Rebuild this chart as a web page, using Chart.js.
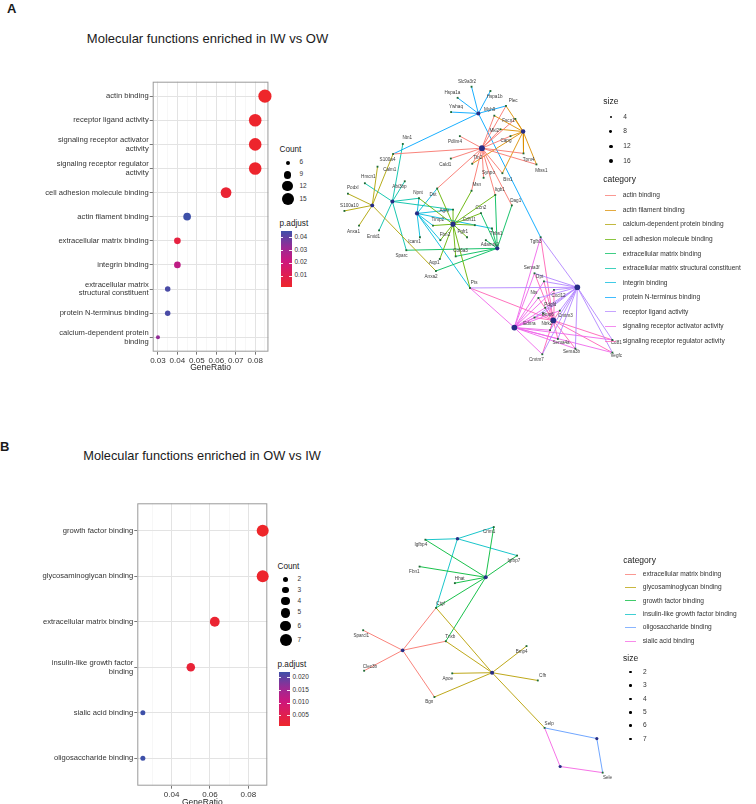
<!DOCTYPE html>
<html>
<head>
<meta charset="utf-8">
<title>Molecular functions enriched</title>
<script src="https://cdn.jsdelivr.net/npm/chart.js@4.4.1/dist/chart.umd.min.js"></script>
<style>
  html, body { margin: 0; padding: 0; background: #fff; }
  body { position: relative; width: 756px; height: 804px; overflow: hidden; font-family: "Liberation Sans", Arial, Helvetica, sans-serif; color: #1a1a1a; }
  canvas, .t, .key { position: absolute; }
  .t { white-space: nowrap; }
</style>
</head>
<body>
<canvas id="dotA" width="275" height="303" style="left:0;top:70px"></canvas>
<canvas id="netA" width="300" height="320" style="left:330px;top:60px"></canvas>
<canvas id="dotB" width="275" height="318" style="left:0;top:490px"></canvas>
<canvas id="netB" width="290" height="300" style="left:340px;top:500px"></canvas>
<script>
var FONT = '"Liberation Sans", Arial, Helvetica, sans-serif';

// ---- Panel A, dot plot
var termsA = ["actin binding", "receptor ligand activity", ["signaling receptor activator", "activity"],
  ["signaling receptor regulator", "activity"], "cell adhesion molecule binding", "actin filament binding",
  "extracellular matrix binding", "integrin binding", ["extracellular matrix", "structural constituent"],
  "protein N-terminus binding", ["calcium-dependent protein", "binding"]];
var ratioA = [0.085, 0.08, 0.08, 0.08, 0.065, 0.045, 0.04, 0.04, 0.035, 0.035, 0.03];
var countA = [17, 16, 16, 16, 13, 9, 8, 8, 7, 7, 6];
var padjA = [0.0008, 0.0015, 0.0015, 0.0015, 0.003, 0.0447, 0.006, 0.024, 0.043, 0.043, 0.033];
var xTicksA = [0.03, 0.04, 0.05, 0.06, 0.07, 0.08];
var countLegA = [6, 9, 12, 15];
var padjLegA = ["0.04", "0.03", "0.02", "0.01"];

// ---- Panel B, dot plot
var termsB = ["growth factor binding", "glycosaminoglycan binding", "extracellular matrix binding",
  ["insulin-like growth factor", "binding"], "sialic acid binding", "oligosaccharide binding"];
var ratioB = [0.0875, 0.0875, 0.0625, 0.05, 0.025, 0.025];
var countB = [7, 7, 5, 4, 2, 2];
var padjB = [0.0009, 0.0012, 0.0018, 0.0025, 0.0222, 0.0222];
var xTicksB = [0.04, 0.06, 0.08];
var countLegB = [2, 3, 4, 5, 6, 7];
var padjLegB = ["0.020", "0.015", "0.010", "0.005"];

// ---- Panel A, gene-concept network (layout coordinates)
var catA = ["actin binding", "actin filament binding", "calcium-dependent protein binding",
  "cell adhesion molecule binding", "extracellular matrix binding", "extracellular matrix structural constituent",
  "integrin binding", "protein N-terminus binding", "receptor ligand activity",
  "signaling receptor activator activity", "signaling receptor regulator activity"];
var catColA = ["#F8766D", "#DB8E00", "#AEA200", "#64B200", "#00BD5C", "#00C1A7",
  "#00BADE", "#00A6FF", "#B385FF", "#EF67EB", "#FF63B6"];
var catXA = [482, 524.3, 369.3, 452.3, 497.7, 390, 415.3, 478.3, 580, 515.3, 555.3];
var catYA = [146.3, 129.3, 205, 224.3, 249, 201, 213.3, 110.7, 289, 330.3, 323];
var catCountA = [17, 9, 6, 13, 8, 7, 8, 7, 16, 16, 16];
var sizeLegA = [4, 8, 12, 16];

var geneA = ["Slc9a3r2", "Hspa1a", "Hspa1b", "Ywhaq", "Myh9", "Plec", "Fscn1", "Mkl2", "Capg", "Pdlim4",
  "Cald1", "Tln2", "Tpm4", "Mtss1", "Synpo", "Bin1", "Msn", "Itgb1", "Dag1", "Ntn1",
  "S100a4", "Calm1", "Hmcn1", "Abi3bp", "Podxl", "Npnt", "Dst", "S100a10", "Anxa1", "Emid1",
  "Agrn", "Timp2", "Cdh11", "Ccn2", "Fgfr1", "Fbn2", "Icam1", "Col6a3", "Sparc", "Aqp1",
  "Anxa2", "Pts", "Tgfb3", "Thbs1", "Adamts2", "Sema3f", "Dpt", "Nts", "Cxcl12", "Pdgfd",
  "Bmp6", "Cmtm3", "Ntrk2", "Ednra", "Sema4a", "Cmtm7", "Sema3b", "Cd81", "Vegfc"];
var geneXA = [471.3, 457, 490.7, 450.3, 494.7, 506.7, 516.3, 501, 511.3, 459.3,
  450, 472, 524.7, 538, 483.7, 503, 471.3, 495.7, 512.7, 400.7,
  390.7, 374.7, 361.7, 402.7, 344.3, 417.3, 436, 340.7, 355.7, 376.3,
  452.3, 431.7, 474.7, 481, 466.7, 439.3, 418.3, 455, 404.3, 438.7,
  434.7, 469.7, 542.3, 492.3, 486, 536, 545.7, 540, 556, 547,
  545, 562, 552, 536, 560, 544, 578, 616, 616];
var geneYA = [83.3, 94.7, 87.7, 109.3, 113, 103, 116.3, 127, 134, 134,
  157, 162.3, 151.7, 163, 176.7, 172, 190, 194.3, 205, 142,
  152.3, 165.3, 182.3, 180.3, 193, 197.7, 187.7, 210.7, 225.7, 230.7,
  209.3, 225.7, 225.3, 213, 237.7, 240.7, 237.7, 257.3, 251, 260,
  272.3, 289.7, 237.7, 228.7, 240.7, 274.7, 283, 300, 291.7, 310,
  316, 313, 333, 320, 342, 357.7, 352, 343, 356];
var labXA = [466.7, 451.7, 495, 455.3, 490, 514, 509.3, 494.7, 506.7, 454.3,
  444.3, 477.7, 530, 543, 488.7, 508.7, 476.7, 500.3, 516.7, 405.3,
  385, 387.3, 365.3, 397.3, 349.3, 416.3, 431.7, 345.7, 350, 370.7,
  443.3, 436.7, 469, 481, 462.3, 444, 412.7, 460, 399.3, 433,
  429.7, 474, 537.3, 496.7, 490, 533, 541.3, 535.3, 560.7, 552.3,
  549.7, 567.7, 548.7, 530.7, 563.3, 538, 574, 620, 620];
var labYA = [77.7, 89, 94, 104, 107, 97.3, 118, 128.7, 138.3, 139.7,
  163, 156, 157.7, 169.3, 171.3, 178.3, 183.7, 189, 200, 136,
  158.3, 168.3, 176, 185.7, 187, 192, 194, 205, 232, 237,
  210.3, 220, 219.3, 207.7, 232, 235, 242.7, 252, 257, 264,
  278.3, 284, 242.7, 233.7, 245.7, 268.7, 277.7, 294.3, 297.3, 306.7,
  317.3, 318.7, 326.7, 326, 346, 363.3, 355, 346, 359];
var catGenesA = [
  ["Pdlim4", "Mkl2", "Plec", "Capg", "Tpm4", "Cald1", "Tln2", "Synpo", "Bin1", "Msn", "Itgb1", "Dag1", "S100a4", "Dst", "Myh9", "Fscn1", "Mtss1"],
  ["Plec", "Fscn1", "Mkl2", "Capg", "Tpm4", "Mtss1", "Bin1", "Tln2", "Myh9"],
  ["S100a4", "Calm1", "Podxl", "S100a10", "Anxa1", "Anxa2"],
  ["Dst", "Agrn", "Timp2", "Cdh11", "Fgfr1", "Fbn2", "Msn", "Pts", "Aqp1", "Ccn2", "Itgb1", "Npnt", "Col6a3"],
  ["Thbs1", "Adamts2", "Itgb1", "Dag1", "Sparc", "Col6a3", "Anxa2", "Ccn2"],
  ["Ntn1", "Hmcn1", "Abi3bp", "Emid1", "Npnt", "Sparc", "Agrn"],
  ["Npnt", "Timp2", "Icam1", "Thbs1", "Pts", "Agrn", "Fbn2", "Dst"],
  ["Slc9a3r2", "Hspa1a", "Hspa1b", "Ywhaq", "Plec", "S100a4", "Tgfb3"],
  ["Pts", "Tgfb3", "Sema3f", "Dpt", "Nts", "Cxcl12", "Pdgfd", "Bmp6", "Cmtm3", "Ntrk2", "Sema4a", "Cmtm7", "Sema3b", "Cd81", "Vegfc", "Ednra"],
  ["Pts", "Tgfb3", "Sema3f", "Dpt", "Nts", "Cxcl12", "Pdgfd", "Bmp6", "Cmtm3", "Ntrk2", "Sema4a", "Cmtm7", "Sema3b", "Cd81", "Vegfc", "Ednra"],
  ["Pts", "Tgfb3", "Sema3f", "Dpt", "Nts", "Cxcl12", "Pdgfd", "Bmp6", "Cmtm3", "Ntrk2", "Sema4a", "Cmtm7", "Sema3b", "Cd81", "Vegfc", "Ednra"]
];

// ---- Panel B, gene-concept network
var catB = ["extracellular matrix binding", "glycosaminoglycan binding", "growth factor binding",
  "insulin-like growth factor binding", "oligosaccharide binding", "sialic acid binding"];
var catColB = ["#F8766D", "#B79F00", "#00BA38", "#00BFC4", "#619CFF", "#F564E3"];
var catXB = [400.3, 492.3, 485.7, 456.7, 600, 562.3];
var catYB = [650.3, 673.3, 575.3, 535.7, 741, 769.7];
var catCountB = [5, 7, 7, 4, 2, 2];
var sizeLegB = [2, 3, 4, 5, 6, 7];
var geneB = ["Crim1", "Igfbp4", "Igfbp7", "Fbn1", "Hhat", "Ctgf", "Sparcl1", "Tnxb", "Clec3b", "Bmp4",
  "Apoe", "Cfh", "Bgn", "Selp", "Sele"];
var geneXB = [494, 423.7, 518, 417.7, 454, 434.7, 359.7, 444.7, 360.7, 527.7, 451.3, 539.3, 433, 546.3, 606];
var geneYB = [523.7, 536.7, 553, 564.3, 581.3, 606.7, 629.7, 641, 671.3, 646, 674, 681.3, 698.3, 730, 776];
var labXB = [489.3, 419, 514.7, 412.3, 459, 439.3, 357.7, 449.3, 366.7, 522.7, 446.7, 544.3, 427.7, 551, 611];
var labYB = [529, 542, 558.7, 569.3, 576.3, 602, 635.3, 636, 667, 651.3, 680, 676.7, 703, 725.3, 781];
var catGenesB = [
  ["Ctgf", "Sparcl1", "Clec3b", "Tnxb", "Bgn"],
  ["Ctgf", "Tnxb", "Bmp4", "Apoe", "Cfh", "Bgn", "Selp"],
  ["Igfbp4", "Crim1", "Igfbp7", "Fbn1", "Hhat", "Ctgf", "Tnxb"],
  ["Igfbp4", "Crim1", "Igfbp7", "Ctgf"],
  ["Selp", "Sele"],
  ["Selp", "Sele"]
];

// ---- helpers
var PADJ_STOPS = [[0, [238, 38, 42]], [0.45, [206, 22, 124]], [0.72, [150, 44, 150]], [1, [62, 80, 168]]];

function padjColor(p, lo, hi) {
  var t = Math.max(0, Math.min(1, (p - lo) / (hi - lo)));
  for (var i = 1; i < PADJ_STOPS.length; i++) {
    if (t <= PADJ_STOPS[i][0]) {
      var a = PADJ_STOPS[i - 1], b = PADJ_STOPS[i];
      var f = (t - a[0]) / (b[0] - a[0]);
      var c = a[1].map(function (v, k) { return Math.round(v + (b[1][k] - v) * f); });
      return "rgb(" + c.join(",") + ")";
    }
  }
  return "rgb(62,80,168)";
}

function gradientCss() {
  return "linear-gradient(to top," + PADJ_STOPS.map(function (s) {
    return "rgb(" + s[1].join(",") + ") " + (s[0] * 100) + "%";
  }).join(",") + ")";
}

function hexA(hex, a) {
  var n = parseInt(hex.slice(1), 16);
  return "rgba(" + (n >> 16) + "," + ((n >> 8) & 255) + "," + (n & 255) + "," + a + ")";
}

function radiusA(c) { return Math.sqrt(4 + (c - 6) * 32 / 9); }
function radiusB(c) { return Math.sqrt(6.25 + (c - 2) * 5.95); }

function addText(x, y, str, size, opts) {
  opts = opts || {};
  var d = document.createElement("div");
  d.className = "t";
  d.textContent = str;
  d.style.fontSize = size + "px";
  d.style.lineHeight = size + "px";
  d.style.top = (y - size / 2) + "px";
  d.style.left = x + "px";
  if (opts.center) d.style.transform = "translateX(-50%)";
  if (opts.bold) d.style.fontWeight = "bold";
  if (opts.color) d.style.color = opts.color;
  document.body.appendChild(d);
}

function addBox(x, y, w, h, css) {
  var d = document.createElement("div");
  d.className = "key";
  d.style.left = x + "px";
  d.style.top = y + "px";
  d.style.width = w + "px";
  d.style.height = h + "px";
  for (var k in css) d.style[k] = css[k];
  document.body.appendChild(d);
}

function addDot(cx, cy, r, color) {
  addBox(cx - r, cy - r, 2 * r, 2 * r, { background: color, borderRadius: "50%" });
}

var panelBorder = {
  id: "panelBorder",
  beforeDatasetsDraw: function (chart) {
    var a = chart.chartArea, ctx = chart.ctx;
    ctx.save();
    ctx.strokeStyle = "#9a9a9a";
    ctx.lineWidth = 1;
    ctx.strokeRect(a.left + 0.5, a.top + 0.5, a.right - a.left - 1, a.bottom - a.top - 1);
    ctx.restore();
  }
};

function isOn(v, step) { return Math.abs(v / step - Math.round(v / step)) < 1e-6; }

function dotPlot(id, terms, ratio, count, padj, ticks, minorStep, xMin, xMax, yWidth, xHeight, padTop, padRight, radiusFn) {
  var lo = Math.min.apply(null, padj), hi = Math.max.apply(null, padj);
  var majorStep = ticks[1] - ticks[0];
  var allTicks = [];
  for (var v = ticks[0] - majorStep; v <= xMax + 1e-9; v += minorStep) {
    var r = Math.round(v * 10000) / 10000;
    if (r >= xMin && r <= xMax) allTicks.push(r);
  }
  return new Chart(document.getElementById(id), {
    type: "scatter",
    data: {
      datasets: [{
        data: ratio.map(function (r, i) { return { x: r, y: i }; }),
        pointRadius: count.map(radiusFn),
        pointHoverRadius: count.map(radiusFn),
        backgroundColor: padj.map(function (p) { return padjColor(p, lo, hi); }),
        borderWidth: 0,
        clip: false
      }]
    },
    options: {
      responsive: false,
      animation: false,
      devicePixelRatio: 1,
      layout: { padding: { top: padTop, right: padRight, left: 0, bottom: 0 } },
      plugins: { legend: { display: false }, tooltip: { enabled: false } },
      scales: {
        x: {
          type: "linear", min: xMin, max: xMax,
          afterBuildTicks: function (s) { s.ticks = allTicks.map(function (t) { return { value: t }; }); },
          afterFit: function (s) { s.height = xHeight; },
          ticks: {
            autoSkip: false, maxRotation: 0, padding: 1, color: "#333",
            font: { size: 8, family: FONT },
            callback: function (v) { return isOn(v, majorStep) && ticks.indexOf(Math.round(v * 1000) / 1000) >= 0 ? String(Math.round(v * 1000) / 1000) : ""; }
          },
          grid: {
            tickLength: 3,
            color: function (c) { return isOn(c.tick.value, majorStep) ? "#e3e3e3" : "#f1f1f1"; },
            lineWidth: function (c) { return isOn(c.tick.value, majorStep) ? 1 : 0.6; },
            tickColor: function (c) { return isOn(c.tick.value, majorStep) ? "#777" : "rgba(0,0,0,0)"; }
          },
          border: { display: false },
          title: { display: true, text: "GeneRatio", color: "#222", font: { size: 8.5, family: FONT }, padding: 0 }
        },
        y: {
          type: "linear", min: -0.6, max: terms.length - 0.4, reverse: true,
          afterBuildTicks: function (s) { s.ticks = terms.map(function (t, i) { return { value: i }; }); },
          afterFit: function (s) { s.width = yWidth; },
          ticks: {
            autoSkip: false, padding: 1, color: "#333",
            font: { size: 7.6, family: FONT, lineHeight: 1.1 },
            callback: function (v) { return terms[v]; }
          },
          grid: { color: "#e3e3e3", lineWidth: 1, tickLength: 3, tickColor: "#777" },
          border: { display: false }
        }
      }
    },
    plugins: [panelBorder]
  });
}

var nodeLabels = {
  id: "nodeLabels",
  afterDatasetsDraw: function (chart, args, opts) {
    var ctx = chart.ctx, xs = chart.scales.x, ys = chart.scales.y;
    ctx.save();
    ctx.font = "4.6px " + FONT;
    ctx.fillStyle = "#3a3a3a";
    ctx.textAlign = "center";
    ctx.textBaseline = "middle";
    opts.names.forEach(function (n, i) {
      ctx.fillText(n, xs.getPixelForValue(opts.lx[i]), ys.getPixelForValue(opts.ly[i]));
    });
    ctx.restore();
  }
};

function netPlot(id, xMin, xMax, yMin, yMax, cats, cols, cx, cy, ccount, catGenes, genes, gx, gy, lx, ly) {
  var datasets = [{
    data: genes.map(function (g, i) { return { x: gx[i], y: gy[i] }; }),
    pointStyle: "rect", pointRadius: 1.3, backgroundColor: "#1c6b34", borderWidth: 0, order: 0
  }, {
    data: cats.map(function (c, i) { return { x: cx[i], y: cy[i] }; }),
    pointRadius: ccount.map(function (n) { return 1.4 + n * 0.09; }),
    backgroundColor: "#262d86", borderWidth: 0, order: 0
  }];
  cats.forEach(function (c, i) {
    var pts = [];
    catGenes[i].forEach(function (g) {
      var k = genes.indexOf(g);
      if (k < 0) return;
      pts.push({ x: cx[i], y: cy[i] }, { x: gx[k], y: gy[k] }, { x: null, y: null });
    });
    datasets.push({
      data: pts, showLine: true, spanGaps: false, pointRadius: 0,
      borderColor: hexA(cols[i], 0.9), borderWidth: 1, order: 1
    });
  });
  return new Chart(document.getElementById(id), {
    type: "scatter",
    data: { datasets: datasets },
    options: {
      responsive: false, animation: false, devicePixelRatio: 1,
      layout: { padding: 0 },
      plugins: { legend: { display: false }, tooltip: { enabled: false }, nodeLabels: { names: genes, lx: lx, ly: ly } },
      scales: {
        x: { type: "linear", display: false, min: xMin, max: xMax },
        y: { type: "linear", display: false, min: yMin, max: yMax, reverse: true }
      }
    },
    plugins: [nodeLabels]
  });
}

// ---- draw charts
dotPlot("dotA", termsA, ratioA, countA, padjA, xTicksA, 0.005, 0.0273, 0.0868, 152.7, 21.3, 11.7, 6, radiusA);
dotPlot("dotB", termsB, ratioB, countB, padjB, xTicksB, 0.01, 0.0221, 0.0899, 137.3, 22.3, 13.3, 7.7, radiusB);
netPlot("netA", 330, 630, 60, 380, catA, catColA, catXA, catYA, catCountA, catGenesA, geneA, geneXA, geneYA, labXA, labYA);
netPlot("netB", 340, 630, 500, 800, catB, catColB, catXB, catYB, catCountB, catGenesB, geneB, geneXB, geneYB, labXB, labYB);

// ---- titles and panel letters
addText(7, 8, "A", 13, { bold: true });
addText(207.5, 38, "Molecular functions enriched in IW vs OW", 13, { center: true });
addText(0, 446, "B", 13, { bold: true });
addText(202, 456, "Molecular functions enriched in OW vs IW", 12.8, { center: true });

// ---- dot plot legends
function dotLegend(x, titleY, rowsY, counts, radiusFn, pTitleY, barTop, barBot, pLabels, pLo, pHi) {
  addText(x, titleY, "Count", 8.2);
  counts.forEach(function (c, i) {
    addDot(x + 8, rowsY[i], radiusFn(c), "#000");
    addText(x + 20, rowsY[i], String(c), 6.5, { color: "#333" });
  });
  addText(x, pTitleY, "p.adjust", 8.2);
  addBox(x + 1, barTop, 11, barBot - barTop, { background: gradientCss() });
  pLabels.forEach(function (s) {
    var p = parseFloat(s);
    var y = barBot - (p - pLo) / (pHi - pLo) * (barBot - barTop);
    addBox(x + 1, Math.round(y), 2.5, 1, { background: "rgba(255,255,255,0.9)" });
    addBox(x + 9.5, Math.round(y), 2.5, 1, { background: "rgba(255,255,255,0.9)" });
    addText(x + 15, y, s, 6.5, { color: "#333" });
  });
}
dotLegend(279.5, 150, [162.7, 174.7, 186, 199.3], countLegA, radiusA, 224.3, 231, 287.3, padjLegA,
  Math.min.apply(null, padjA), Math.max.apply(null, padjA));
dotLegend(277.5, 567.3, [579.3, 590, 601, 612.7, 626, 640], countLegB, radiusB, 665, 671.7, 725.7,
  padjLegB, Math.min.apply(null, padjB), Math.max.apply(null, padjB));

// ---- network legends
function catLegend(x, titleY, firstY, step, cats, cols) {
  addText(x, titleY, "category", 8.5);
  cats.forEach(function (c, i) {
    var y = firstY + i * step;
    addBox(Math.round(x + 1.5), Math.round(y - 0.5), 11, 1, { background: hexA(cols[i], 0.75) });
    addText(x + 19.5, y, c, 6.6, { color: "#333" });
  });
}
function sizeLegend(x, titleY, firstY, step, sizes) {
  addText(x, titleY, "size", 8.5);
  sizes.forEach(function (s, i) {
    var y = firstY + i * step;
    addDot(x + 7.5, y, 1.0 + s * 0.06, "#000");
    addText(x + 20, y, String(s), 6.6, { color: "#333" });
  });
}
sizeLegend(603.3, 101, 117, 14.65, sizeLegA);
catLegend(603.3, 179, 195.7, 14.53, catA, catColA);
catLegend(623.3, 560, 574.3, 13.34, catB, catColB);
sizeLegend(623, 658.7, 672.3, 13.34, sizeLegB);
</script>
</body>
</html>
